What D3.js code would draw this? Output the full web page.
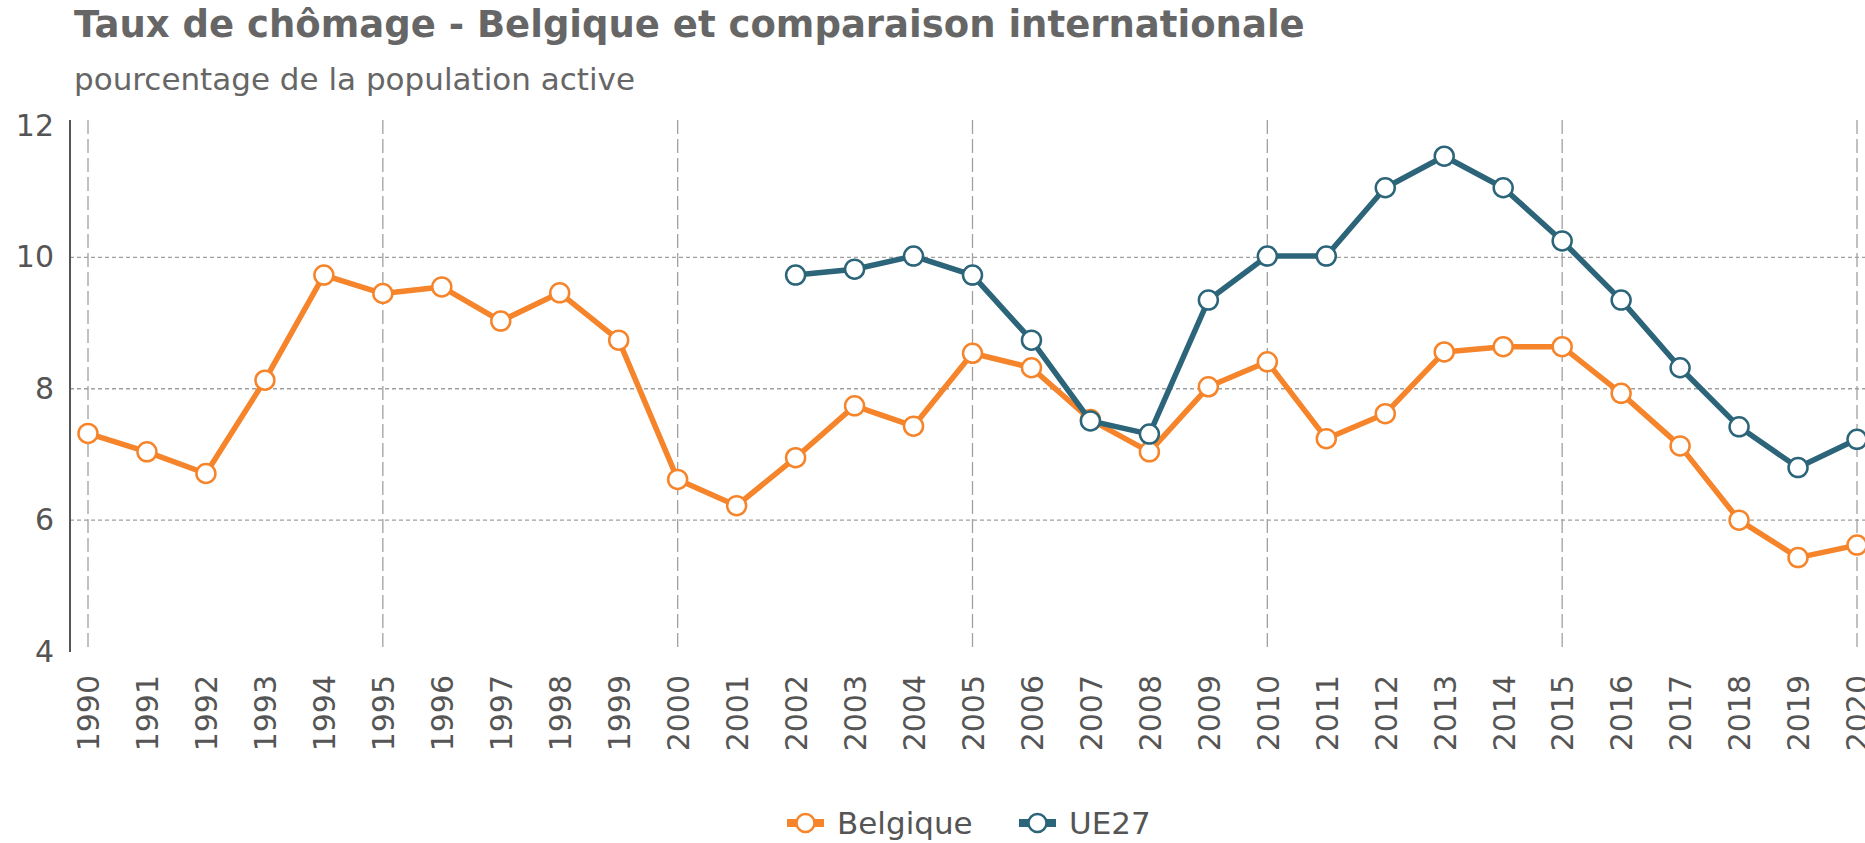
<!DOCTYPE html>
<meta charset="utf-8">
<script src="https://d3js.org/d3.v7.min.js"></script>
<style>
body { margin: 0; background: #fff; }
text { font-family: "DejaVu Sans", Verdana, sans-serif; }
</style>
<div id="chart"></div>
<script>
// Unemployment rate, % of active population
var years = d3.range(1990, 2021);
var belgique = [7.32, 7.04, 6.71, 8.13, 9.73, 9.45, 9.55, 9.03, 9.46, 8.74,
                6.62, 6.22, 6.95, 7.74, 7.43, 8.54, 8.32, 7.53, 7.04, 8.03,
                8.41, 7.24, 7.62, 8.56, 8.64, 8.64, 7.93, 7.13, 6.0, 5.43, 5.62];
var ue27Years = d3.range(2002, 2021);
var ue27 = [9.73, 9.82, 10.02, 9.73, 8.74, 7.51, 7.31, 9.35, 10.02, 10.02,
            11.06, 11.54, 11.06, 10.25, 9.35, 8.32, 7.42, 6.80, 7.23];
var yTicks = [4, 6, 8, 10, 12];
var gridYears = [1990, 1995, 2000, 2005, 2010, 2015, 2020];

var width = 1865, height = 843;
var orange = "#f5842a", teal = "#2c6479", grey = "#666";

var x = d3.scaleLinear().domain([1990, 2020]).range([88, 1857]);
var y = d3.scaleLinear().domain([4, 12]).range([651.5, 126]);

var svg = d3.select("#chart").append("svg")
    .attr("width", width)
    .attr("height", height);

// Title and subtitle
svg.append("text")
    .attr("x", 74).attr("y", 37)
    .attr("fill", grey)
    .style("font-size", "37px")
    .style("font-weight", "bold")
    .text("Taux de chômage - Belgique et comparaison internationale");

svg.append("text")
    .attr("x", 74).attr("y", 90)
    .attr("fill", grey)
    .style("font-size", "31px")
    .text("pourcentage de la population active");

// horizontal dotted gridlines
svg.append("g").selectAll("line")
    .data([6, 8, 10])
    .enter().append("line")
    .attr("x1", 70).attr("x2", width)
    .attr("y1", y).attr("y2", y)
    .attr("stroke", "#a0a0a0")
    .attr("stroke-width", 1.3)
    .attr("stroke-dasharray", "4,3");

// vertical dashed gridlines
svg.append("g").selectAll("line")
    .data(gridYears)
    .enter().append("line")
    .attr("x1", x).attr("x2", x)
    .attr("y1", 120).attr("y2", 652)
    .attr("stroke", "#a0a0a0")
    .attr("stroke-width", 1.3)
    .attr("stroke-dasharray", "14,5");

// y axis
var yAxis = svg.append("g")
    .attr("transform", "translate(70,0)")
    .call(d3.axisLeft(y).tickValues(yTicks).tickSize(0).tickPadding(16));
yAxis.select(".domain").attr("stroke", "#555").attr("stroke-width", 2)
    .attr("d", "M0,120V652");
yAxis.selectAll("text")
    .attr("fill", "#555")
    .style("font-size", "30px")
    .style("font-family", "DejaVu Sans");

// x axis labels, rotated
var xAxis = svg.append("g")
    .attr("transform", "translate(0,652)")
    .call(d3.axisBottom(x).tickValues(years).tickFormat(d3.format("d")).tickSize(0));
xAxis.select(".domain").remove();
xAxis.selectAll("text")
    .attr("fill", "#555")
    .style("font-size", "30px")
    .style("font-family", "DejaVu Sans")
    .attr("text-anchor", "end")
    .attr("transform", "rotate(-90)")
    .attr("x", -23)
    .attr("y", 0)
    .attr("dy", "0.36em");

var line = d3.line()
    .x(function(d) { return x(d[0]); })
    .y(function(d) { return y(d[1]); });

function drawSeries(xs, vs, color) {
    var pts = xs.map(function(yr, i) { return [yr, vs[i]]; });
    var g = svg.append("g");
    g.append("path")
        .datum(pts)
        .attr("d", line)
        .attr("fill", "none")
        .attr("stroke", color)
        .attr("stroke-width", 5.5)
        .attr("stroke-linejoin", "round");
    g.selectAll("circle")
        .data(pts)
        .enter().append("circle")
        .attr("cx", function(d) { return x(d[0]); })
        .attr("cy", function(d) { return y(d[1]); })
        .attr("r", 9.5)
        .attr("fill", "#fff")
        .attr("stroke", color)
        .attr("stroke-width", 2.5);
}

drawSeries(years, belgique, orange);
drawSeries(ue27Years, ue27, teal);

// legend
var legendItems = [
    { name: "Belgique", color: orange, x: 787 },
    { name: "UE27", color: teal, x: 1019 }
];
var legend = svg.append("g").selectAll("g")
    .data(legendItems)
    .enter().append("g")
    .attr("transform", function(d) { return "translate(" + d.x + ",823)"; });
legend.append("line")
    .attr("x1", 0).attr("x2", 37)
    .attr("stroke", function(d) { return d.color; })
    .attr("stroke-width", 8);
legend.append("circle")
    .attr("cx", 18.5).attr("r", 9)
    .attr("fill", "#fff")
    .attr("stroke", function(d) { return d.color; })
    .attr("stroke-width", 2.5);
legend.append("text")
    .attr("x", 50)
    .attr("dy", "0.36em")
    .attr("fill", "#555")
    .style("font-size", "31px")
    .text(function(d) { return d.name; });
</script>
